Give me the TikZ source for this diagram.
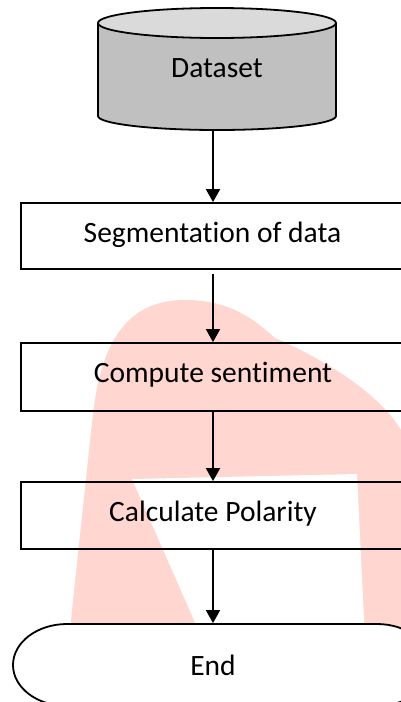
\documentclass[tikz,border=0pt]{standalone}
\usepackage{fontspec}
\setmainfont[RawFeature=-liga]{Carlito}
\usetikzlibrary{arrows.meta}
\definecolor{wmark}{RGB}{255,214,208}
\definecolor{cyltop}{RGB}{218,218,218}
\definecolor{cylbody}{RGB}{192,192,192}

\begin{document}
\begin{tikzpicture}[x=1pt,y=-1pt,
  line width=1.8pt,
  txt/.style={anchor=base,inner sep=0pt,font=\fontsize{29.5}{34}\selectfont},
  stepbox/.style={draw,rectangle,minimum width=399pt,minimum height=66pt,inner sep=0pt},
  region/.style={rectangle,inner sep=0pt},
  arr/.style={-{Triangle[width=14pt,length=13pt]},line width=1.8pt}]

\useasboundingbox (0,0) rectangle (401,702);
\clip (0,0) rectangle (401,702);

% background mark
\fill[wmark] (64,702) -- (72,610) -- (93,413)
  .. controls (102,340) and (128,300) .. (185,300)
  .. controls (225,300) and (250,315) .. (275,338)
  .. controls (330,362) and (380,395) .. (401,430)
  -- (401,702) -- cycle;
\fill[white] (132,479) -- (357,474) -- (368,702) -- (230,702) -- cycle;

% vertical axis of the connectors
\coordinate (axis) at (213,0);

% dataset cylinder
\fill[cylbody] (98,23) -- (98,116) arc[start angle=180,end angle=0,x radius=119,y radius=14]
  -- (336,23) -- cycle;
\draw (98,23) -- (98,116) arc[start angle=180,end angle=0,x radius=119,y radius=14] -- (336,23);
\draw[fill=cyltop] (217,23) ellipse[x radius=119,y radius=15];
\node[region,minimum width=238pt,minimum height=107pt] (ds) at (217,76.5) {};
\node[txt] (dstext) at (217,77) {Dataset};

% process boxes
\node[stepbox] (seg) at (220.5,236) {};
\node[txt] (segtext) at (212.5,242) {Segmentation of data};

\node[stepbox,minimum height=68pt] (sent) at (220.5,377) {};
\node[txt] (senttext) at (213,382.5) {Compute sentiment};

\node[stepbox,minimum height=67pt] (pol) at (220.5,515.5) {};
\node[txt] (poltext) at (213,521.5) {Calculate Polarity};

% terminator
\draw[fill=white] (67,624) -- (377,624)
  arc[start angle=-90,end angle=90,x radius=54,y radius=41]
  -- (67,706)
  arc[start angle=90,end angle=270,x radius=54,y radius=41] -- cycle;
\node[region,minimum width=418pt,minimum height=82pt] (endshape) at (222,665) {};
\node[txt] (endtext) at (213,675) {End};

% connectors
\draw[arr] (ds.south -| axis) -- (seg.north -| axis);
\draw[arr,shorten <=4pt] (seg.south -| axis) -- (sent.north -| axis);
\draw[arr] (sent.south -| axis) -- (pol.north -| axis);
\draw[arr] (pol.south -| axis) -- (endshape.north -| axis);

\end{tikzpicture}
\end{document}
